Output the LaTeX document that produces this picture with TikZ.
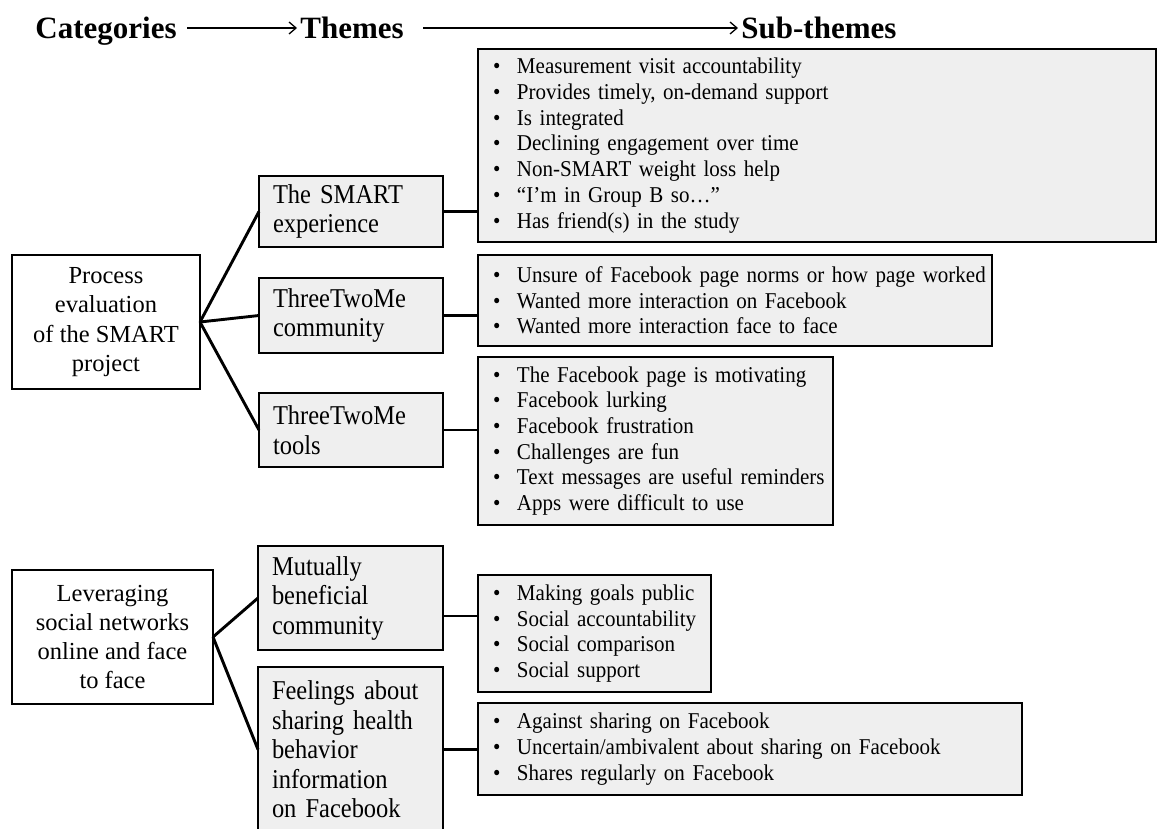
\documentclass[tikz,border=0pt]{standalone}
\usepackage{fontspec}
\setmainfont{Liberation Serif}
\newfontfamily\itemfont[FakeStretch=0.93]{Liberation Serif}
\newfontfamily\themefont[FakeStretch=0.9]{Liberation Serif}
\usetikzlibrary{arrows.meta}
\definecolor{boxgray}{HTML}{EFEFEF}
\newcommand{\itm}[1]{\mbox{\makebox[24pt][l]{\textbullet}#1}}

\begin{document}
\begin{tikzpicture}[x=1pt,y=-1pt,line width=2.9pt,
  hdr/.style={font=\fontsize{31}{36}\selectfont\bfseries,inner sep=0pt,anchor=base west,text height=22pt,text depth=6pt},
  hdrarrow/.style={line width=1.3pt,-{Straight Barb[length=7pt,width=12pt]}},
  catbox/.style={draw,fill=white,anchor=north west,outer sep=0pt,align=center,font=\fontsize{24.5}{29.3}\selectfont},
  themebox/.style={draw,fill=boxgray,anchor=north west,outer sep=0pt,inner xsep=14pt,align=left,font=\themefont\fontsize{27.2}{29.5}\selectfont},
  subbox/.style={draw,fill=boxgray,anchor=north west,outer sep=0pt,inner xsep=15pt,align=left,font=\itemfont\fontsize{22.6}{25.7}\selectfont}]
  \useasboundingbox (0,0) rectangle (1158,829);

  % header
  \node[hdr] (cat) at (34,39) {Categories};
  \node[hdr] (thm) at (299,39) {Themes};
  \node[hdr] (subt) at (740,39) {Sub-themes};
  \draw[hdrarrow,shorten <=9pt,shorten >=2pt] ([yshift=3pt]cat.east) -- ([yshift=3pt]thm.west);
  \draw[hdrarrow,shorten <=18pt,shorten >=2pt] ([yshift=3pt]thm.east) -- ([yshift=3pt]subt.west);

  % categories
  \node[catbox,minimum width=188pt,minimum height=134pt] (proc) at (12,255) {Process\\evaluation\\of the SMART\\project};
  \node[catbox,minimum width=201pt,minimum height=134pt] (lev) at (12,570) {Leveraging\\social networks\\online and face\\to face};

  % themes
  \node[themebox,text width=156pt,minimum height=71pt] (smart) at (259,176) {The SMART\\experience};
  \node[themebox,text width=156pt,minimum height=75pt] (comm) at (259,278) {ThreeTwoMe\\community};
  \node[themebox,text width=156pt,minimum height=74pt] (tools) at (259,393) {ThreeTwoMe\\tools};
  \node[themebox,text width=157pt,minimum height=104pt] (mut) at (258,546) {Mutually\\beneficial\\community};
  \node[themebox,text width=157pt,minimum height=165pt] (feel) at (258,667) {Feelings about\\sharing health\\behavior\\information\\on Facebook};

  % sub-themes
  \node[subbox,text width=648pt,minimum height=193pt] (s1) at (478,49) {\itm{Measurement visit accountability}\\\itm{Provides timely, on-demand support}\\\itm{Is integrated}\\\itm{Declining engagement over time}\\\itm{Non-SMART weight loss help}\\\itm{“I’m in Group B so…”}\\\itm{Has friend(s) in the study}};
  \node[subbox,text width=484pt,minimum height=91pt] (s2) at (478,255) {\itm{Unsure of Facebook page norms or how page worked}\\\itm{Wanted more interaction on Facebook}\\\itm{Wanted more interaction face to face}};
  \node[subbox,text width=325pt,minimum height=168pt] (s3) at (478,357) {\itm{The Facebook page is motivating}\\\itm{Facebook lurking}\\\itm{Facebook frustration}\\\itm{Challenges are fun}\\\itm{Text messages are useful reminders}\\\itm{Apps were difficult to use}};
  \node[subbox,text width=203pt,minimum height=117pt] (s4) at (478,575) {\itm{Making goals public}\\\itm{Social accountability}\\\itm{Social comparison}\\\itm{Social support}};
  \node[subbox,text width=514pt,minimum height=92pt] (s5) at (478,703) {\itm{Against sharing on Facebook}\\\itm{Uncertain/ambivalent about sharing on Facebook}\\\itm{Shares regularly on Facebook}};

  % connectors
  \draw (proc.east) -- (smart.west);
  \draw (proc.east) -- (comm.west);
  \draw (proc.east) -- (tools.west);
  \draw (lev.east) -- (mut.west);
  \draw (lev.east) -- (feel.west);
  \draw (smart.east) -- (smart.east -| s1.west);
  \draw (comm.east) -- (comm.east -| s2.west);
  \draw (tools.east) -- (tools.east -| s3.west);
  \draw ([yshift=-18pt]mut.east) -- ([yshift=-18pt]mut.east -| s4.west);
  \draw (feel.east) -- (feel.east -| s5.west);
\end{tikzpicture}
\end{document}
